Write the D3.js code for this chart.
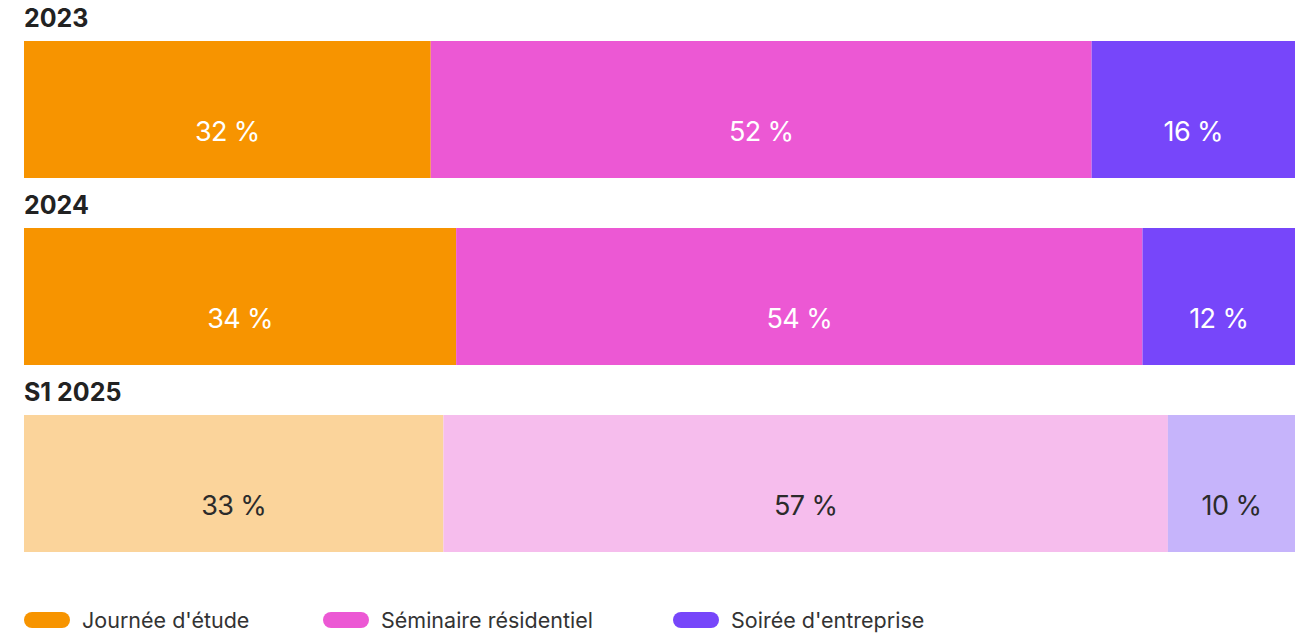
<!DOCTYPE html>
<html>
<head>
<meta charset="utf-8">
<script src="https://cdn.jsdelivr.net/npm/d3@7"></script>
<style>
  html, body { margin: 0; padding: 0; background: #fff; }
  svg { display: block; }
</style>
</head>
<body>
<svg id="chart" width="1306" height="634"></svg>
<script>
// Répartition des événements par type et par période
const periods = ["2023", "2024", "S1 2025"];
const types = ["Journée d'étude", "Séminaire résidentiel", "Soirée d'entreprise"];
const shares2023 = [32, 52, 16];
const shares2024 = [34, 54, 12];
const sharesS12025 = [33, 57, 10];

const colors = ["#F79400", "#EC58D4", "#7746FA"];
const lightColors = ["#FBD49B", "#F6BDED", "#C6B4FB"];

const rows = [
  { period: periods[0], values: shares2023, fills: colors, text: "#ffffff" },
  { period: periods[1], values: shares2024, fills: colors, text: "#ffffff" },
  { period: periods[2], values: sharesS12025, fills: lightColors, text: "#2b2b2b" }
];

const svg = d3.select("#chart");
const font = "Inter, 'Noto Sans', sans-serif";

const x = d3.scaleLinear().domain([0, 100]).range([24, 1295]);
const y = d3.scaleBand().domain(periods).range([41, 552]).paddingInner(50 / 187).paddingOuter(0);

const row = svg.selectAll("g.row")
  .data(rows)
  .join("g")
  .attr("class", "row")
  .attr("transform", d => `translate(0,${y(d.period)})`);

row.append("text")
  .attr("x", 24)
  .attr("y", -14)
  .attr("font-family", font)
  .attr("font-weight", 700)
  .attr("font-size", 25)
  .attr("fill", "#222")
  .text(d => d.period);

const segs = row.selectAll("g.seg")
  .data(d => {
    let acc = 0;
    return d.values.map((v, i) => {
      const s = { start: acc, end: acc + v, value: v, fill: d.fills[i], text: d.text };
      acc += v;
      return s;
    });
  })
  .join("g")
  .attr("class", "seg");

segs.append("rect")
  .attr("x", d => x(d.start))
  .attr("y", 0)
  .attr("width", d => x(d.end) - x(d.start))
  .attr("height", y.bandwidth())
  .attr("fill", d => d.fill);

segs.append("text")
  .attr("x", d => (x(d.start) + x(d.end)) / 2)
  .attr("y", 100)
  .attr("text-anchor", "middle")
  .attr("font-family", font)
  .attr("font-weight", 400)
  .attr("font-size", 27)
  .attr("letter-spacing", -0.6)
  .attr("fill", d => d.text)
  .text(d => `${d.value} %`);

// Légende
const legendX = [24, 323, 673];
const legend = svg.selectAll("g.legend")
  .data(types)
  .join("g")
  .attr("class", "legend")
  .attr("transform", (d, i) => `translate(${legendX[i]},612)`);

legend.append("rect")
  .attr("width", 46)
  .attr("height", 16)
  .attr("rx", 8)
  .attr("fill", (d, i) => colors[i]);

legend.append("text")
  .attr("x", 58)
  .attr("y", 15.5)
  .attr("font-family", font)
  .attr("font-size", 21.5)
  .attr("fill", "#333")
  .text(d => d);
</script>
</body>
</html>
